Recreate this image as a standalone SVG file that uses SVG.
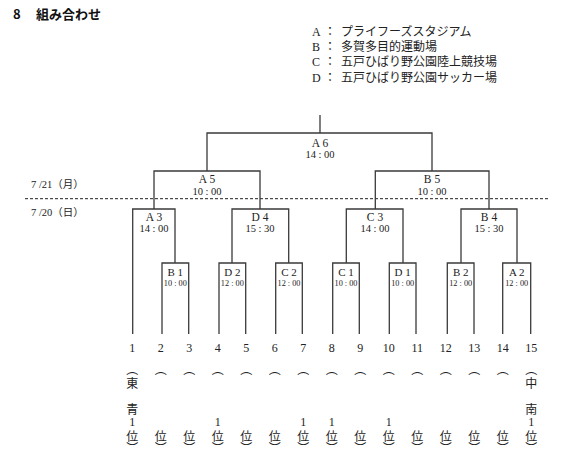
<svg xmlns="http://www.w3.org/2000/svg" width="573" height="469" viewBox="0 0 573 469">
<style>
.ln{fill:none;stroke:#3a3a3a;stroke-width:1.3}
.dash{fill:none;stroke:#222;stroke-width:1;stroke-dasharray:3 2}
.jp{font-family:"Noto Sans CJK JP",sans-serif;fill:#222}
.ttl{font-family:"Noto Sans CJK JP",sans-serif;font-weight:bold;font-size:13px;fill:#111}
.sf{font-family:"Liberation Serif","Noto Sans CJK JP",serif;fill:#222}
.lg{font-size:12px}
.m{text-anchor:middle}
.g{font-size:11.5px}
.t{font-size:10.5px}
.gs{font-size:11px}
.ts{font-size:9px}
.num{font-size:12px;text-anchor:middle}
.v{font-size:12px;text-anchor:middle}
</style>
<rect width="573" height="469" fill="#fff"/>
<g id="title">
<text class="ttl" x="13" y="19">8</text>
<text class="ttl" x="36" y="19">組み合わせ</text>
</g>
<g id="legend">
<text class="sf lg" x="312" y="35.5">A</text><text class="jp lg" x="324" y="35.5">：</text><text class="jp lg" x="341" y="35.5">プライフーズスタジアム</text>
<text class="sf lg" x="312" y="51">B</text><text class="jp lg" x="324" y="51">：</text><text class="jp lg" x="341" y="51">多賀多目的運動場</text>
<text class="sf lg" x="312" y="66.3">C</text><text class="jp lg" x="324" y="66.3">：</text><text class="jp lg" x="341" y="66.3">五戸ひばり野公園陸上競技場</text>
<text class="sf lg" x="312" y="82">D</text><text class="jp lg" x="324" y="82">：</text><text class="jp lg" x="341" y="82">五戸ひばり野公園サッカー場</text>
</g>
<g id="dates">
<text class="sf t" x="31" y="188">7 /21（月）</text>
<text class="sf t" x="31" y="216">7 /20（日）</text>
<line class="dash" x1="25" y1="198.7" x2="548" y2="198.7"/>
</g>
<g id="connectors">
<path class="ln" d="M320 115 V133"/>
<path class="ln" d="M207 171 V133 H432 V171"/>
<path class="ln" d="M154 209 V171 H260 V209"/>
<path class="ln" d="M375.3 209 V171 H489 V209"/>
<path class="ln" d="M132.7 334 V209 H175 V263"/>
<path class="ln" d="M232 263 V209 H288.7 V263"/>
<path class="ln" d="M346.3 263 V209 H403 V263"/>
<path class="ln" d="M461 263 V209 H517 V263"/>
<path class="ln" d="M162 334 V263 H188.7 V334"/>
<path class="ln" d="M219 334 V263 H245.7 V334"/>
<path class="ln" d="M275.7 334 V263 H302.3 V334"/>
<path class="ln" d="M332.7 334 V263 H359.3 V334"/>
<path class="ln" d="M389.3 334 V263 H416 V334"/>
<path class="ln" d="M447.3 334 V263 H474 V334"/>
<path class="ln" d="M502.7 334 V263 H530.7 V334"/>
</g>
<g id="A6"><text class="sf g m" x="320" y="146.5">A 6</text><text class="sf t m" x="320" y="158">14 : 00</text></g>
<g id="A5"><text class="sf g m" x="207" y="183">A 5</text><text class="sf t m" x="207" y="194.5">10 : 00</text></g>
<g id="B5"><text class="sf g m" x="432" y="183">B 5</text><text class="sf t m" x="432" y="194.5">10 : 00</text></g>
<g id="A3"><text class="sf g m" x="154" y="220.5">A 3</text><text class="sf t m" x="154" y="231.5">14 : 00</text></g>
<g id="D4"><text class="sf g m" x="260" y="220.5">D 4</text><text class="sf t m" x="260" y="231.5">15 : 30</text></g>
<g id="C3"><text class="sf g m" x="375" y="220.5">C 3</text><text class="sf t m" x="375" y="231.5">14 : 00</text></g>
<g id="B4"><text class="sf g m" x="489" y="220.5">B 4</text><text class="sf t m" x="489" y="231.5">15 : 30</text></g>
<g id="B1"><text class="sf gs m" x="175.3" y="275.5">B 1</text><text class="sf ts m" x="175.3" y="286" textLength="23" lengthAdjust="spacingAndGlyphs">10 : 00</text></g>
<g id="D2"><text class="sf gs m" x="232.3" y="275.5">D 2</text><text class="sf ts m" x="232.3" y="286" textLength="23" lengthAdjust="spacingAndGlyphs">12 : 00</text></g>
<g id="C2"><text class="sf gs m" x="289" y="275.5">C 2</text><text class="sf ts m" x="289" y="286" textLength="23" lengthAdjust="spacingAndGlyphs">12 : 00</text></g>
<g id="C1"><text class="sf gs m" x="346" y="275.5">C 1</text><text class="sf ts m" x="346" y="286" textLength="23" lengthAdjust="spacingAndGlyphs">10 : 00</text></g>
<g id="D1"><text class="sf gs m" x="402.7" y="275.5">D 1</text><text class="sf ts m" x="402.7" y="286" textLength="23" lengthAdjust="spacingAndGlyphs">10 : 00</text></g>
<g id="B2"><text class="sf gs m" x="460.7" y="275.5">B 2</text><text class="sf ts m" x="460.7" y="286" textLength="23" lengthAdjust="spacingAndGlyphs">12 : 00</text></g>
<g id="A2"><text class="sf gs m" x="516.7" y="275.5">A 2</text><text class="sf ts m" x="516.7" y="286" textLength="23" lengthAdjust="spacingAndGlyphs">12 : 00</text></g>
<g id="numbers">
<text class="sf num" x="132.3" y="351.5">1</text>
<text class="sf num" x="160.8" y="351.5">2</text>
<text class="sf num" x="189.3" y="351.5">3</text>
<text class="sf num" x="217.8" y="351.5">4</text>
<text class="sf num" x="246.3" y="351.5">5</text>
<text class="sf num" x="274.8" y="351.5">6</text>
<text class="sf num" x="303.3" y="351.5">7</text>
<text class="sf num" x="331.8" y="351.5">8</text>
<text class="sf num" x="360.3" y="351.5">9</text>
<text class="sf num" x="388.8" y="351.5">10</text>
<text class="sf num" x="417.3" y="351.5">11</text>
<text class="sf num" x="445.8" y="351.5">12</text>
<text class="sf num" x="474.3" y="351.5">13</text>
<text class="sf num" x="502.8" y="351.5">14</text>
<text class="sf num" x="531.3" y="351.5">15</text>
</g>
<g id="teams">
<g class="jp v">
<text x="132.3" y="374">︵</text><text x="160.8" y="374">︵</text><text x="189.3" y="374">︵</text><text x="217.8" y="374">︵</text><text x="246.3" y="374">︵</text><text x="274.8" y="374">︵</text><text x="303.3" y="374">︵</text><text x="331.8" y="374">︵</text><text x="360.3" y="374">︵</text><text x="388.8" y="374">︵</text><text x="417.3" y="374">︵</text><text x="445.8" y="374">︵</text><text x="474.3" y="374">︵</text><text x="502.8" y="374">︵</text><text x="531.3" y="374">︵</text>
<text x="132.3" y="388">東</text><text x="132.3" y="413.5">青</text>
<text x="531.3" y="388">中</text><text x="531.3" y="413.5">南</text>
<text x="132.3" y="440.5">位</text><text x="160.8" y="440.5">位</text><text x="189.3" y="440.5">位</text><text x="217.8" y="440.5">位</text><text x="246.3" y="440.5">位</text><text x="274.8" y="440.5">位</text><text x="303.3" y="440.5">位</text><text x="331.8" y="440.5">位</text><text x="360.3" y="440.5">位</text><text x="388.8" y="440.5">位</text><text x="417.3" y="440.5">位</text><text x="445.8" y="440.5">位</text><text x="474.3" y="440.5">位</text><text x="502.8" y="440.5">位</text><text x="531.3" y="440.5">位</text>
<text x="132.3" y="453">︶</text><text x="160.8" y="453">︶</text><text x="189.3" y="453">︶</text><text x="217.8" y="453">︶</text><text x="246.3" y="453">︶</text><text x="274.8" y="453">︶</text><text x="303.3" y="453">︶</text><text x="331.8" y="453">︶</text><text x="360.3" y="453">︶</text><text x="388.8" y="453">︶</text><text x="417.3" y="453">︶</text><text x="445.8" y="453">︶</text><text x="474.3" y="453">︶</text><text x="502.8" y="453">︶</text><text x="531.3" y="453">︶</text>
</g>
<g class="sf num">
<text x="132.3" y="426">1</text><text x="217.8" y="426">1</text><text x="303.3" y="426">1</text><text x="331.8" y="426">1</text><text x="388.8" y="426">1</text><text x="531.3" y="426">1</text>
</g>
</g>
</svg>
